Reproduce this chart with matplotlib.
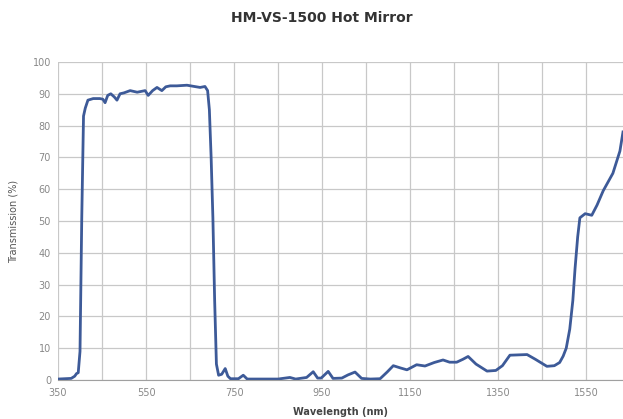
import matplotlib
matplotlib.use("Agg")
import matplotlib.pyplot as plt
import numpy as np

title = "HM-VS-1500 Hot Mirror"
x_label = "Wavelength (nm)"
y_label = "Transmission (%)"
x_ticks = [350, 550, 750, 950, 1150, 1350, 1550]
y_ticks = [0, 10, 20, 30, 40, 50, 60, 70, 80, 90, 100]

wavelength = [350, 365, 380, 388, 392, 396, 400, 404, 408, 412, 418, 430,
              445, 452, 457, 463, 470, 478, 484, 491, 500, 514, 530, 548,
              555, 565, 575, 586, 595, 605, 620, 643, 660, 673, 684, 690,
              694, 698, 702, 706, 710, 715, 722, 730, 736, 742, 760, 771,
              780, 800, 850, 877, 890, 915, 930, 940, 948, 964, 975, 995,
              1009, 1025, 1040, 1060, 1082, 1098, 1112, 1128, 1143, 1165, 1184, 1205,
              1225, 1240, 1256, 1270, 1282, 1300, 1325, 1345, 1360, 1377, 1416, 1435,
              1461, 1478, 1490, 1498, 1505, 1513, 1520, 1525, 1531, 1536, 1548, 1563,
              1575, 1589, 1611, 1627, 1634]
transmission = [0.3, 0.4, 0.5, 1.2, 2.0, 2.3, 9.0, 51, 83, 85.5, 88, 88.5,
                88.5, 88.3, 87.2, 89.5, 90, 89, 88, 90, 90.3, 91, 90.5, 91,
                89.5, 91, 92, 91, 92.2, 92.5, 92.5, 92.7, 92.3, 92, 92.3, 91,
                85, 70, 51, 25, 5, 1.5, 1.8, 3.6, 1.2, 0.4, 0.4, 1.5,
                0.3, 0.3, 0.3, 0.8, 0.3, 0.8, 2.6, 0.6, 0.6, 2.7, 0.5, 0.6,
                1.6, 2.5, 0.5, 0.3, 0.4, 2.5, 4.5, 3.8, 3.2, 4.8, 4.4, 5.5,
                6.3, 5.6, 5.6, 6.5, 7.4, 5.0, 2.8, 3.0, 4.5, 7.8, 8.0, 6.5,
                4.3, 4.5, 5.5, 7.5, 10, 16, 25, 35, 45, 51, 52.3, 51.8,
                55, 59.5, 65, 72, 78]

fig = plt.figure(figsize=(6.23, 4.19), dpi=100)
ax = fig.add_axes([58/623, 39/419, 1 - 58/623, (380-62)/419])

ax.plot(wavelength, transmission, color="#3d5a98", linewidth=2.0, solid_joinstyle="round")

ax.set_xlim(350, 1634)
ax.set_ylim(0, 100)
ax.set_xticks(x_ticks)
ax.set_xticks(np.arange(350, 1650, 100), minor=True)
ax.set_yticks(y_ticks)
ax.grid(True, which="both", color="#c8c8c8", linewidth=0.9)
ax.set_axisbelow(True)
for s in ["top", "right", "left"]:
    ax.spines[s].set_visible(False)
ax.spines["bottom"].set_color("#a0a0a0")
ax.tick_params(axis="both", which="both", length=0, labelsize=7, colors="#888888", pad=5)
ax.tick_params(axis="x", pad=6)

ax.set_xlabel(x_label, fontsize=7, fontweight="bold", color="#444444", labelpad=6)
ax.set_ylabel(y_label, fontsize=7, color="#555555", labelpad=10)
fig.text(322/623, 1 - 18/419, title, ha="center", va="center", fontsize=10,
         fontweight="bold", color="#333333")

fig.savefig("out.png", dpi=100)
